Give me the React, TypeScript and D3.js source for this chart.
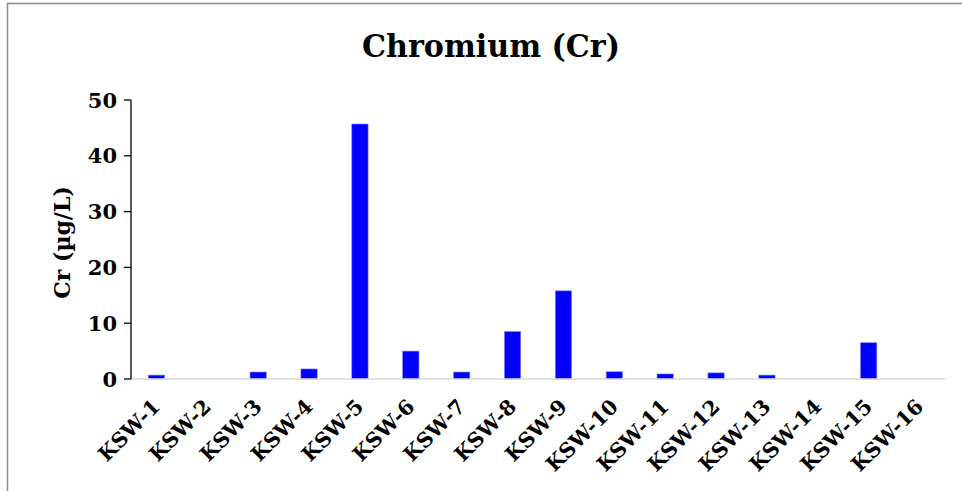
import React from "react";
import * as d3 from "d3";

const sites = [
  "KSW-1", "KSW-2", "KSW-3", "KSW-4", "KSW-5", "KSW-6", "KSW-7", "KSW-8",
  "KSW-9", "KSW-10", "KSW-11", "KSW-12", "KSW-13", "KSW-14", "KSW-15", "KSW-16",
];
const chromium = [0.7, 0, 1.25, 1.8, 45.7, 5.0, 1.25, 8.5, 15.8, 1.3, 0.9, 1.1, 0.7, 0, 6.5, 0];
const yTicks = [0, 10, 20, 30, 40, 50];

const W = 962;
const H = 491;
const FONT = "'DejaVu Serif', serif";

export default function App() {
  const left = 131;
  const right = 945;
  const top = 100;
  const bottom = 379;

  const x = d3.scaleBand<string>().domain(sites).range([left, right]).paddingInner(0.68).paddingOuter(0.34);
  const y = d3.scaleLinear().domain([0, 50]).range([bottom, top]);

  return (
    <svg width={W} height={H} style={{ position: "absolute", left: 0, top: 0, background: "#fff" }}>
      <rect x={7.5} y={3.5} width={W + 10} height={H + 10} fill="#fff" stroke="#8c8c8c" strokeWidth={1.5} />

      <text x={491} y={57} textAnchor="middle" fontFamily={FONT} fontWeight="bold" fontSize={32}
        textLength={258} lengthAdjust="spacingAndGlyphs">
        Chromium (Cr)
      </text>

      {/* bars */}
      {sites.map((s, i) => (
        <rect key={s} x={x(s)!} y={y(chromium[i])} width={x.bandwidth()} height={bottom - y(chromium[i])}
          fill="#0000ff" stroke="#8080ff" strokeWidth={0.6} />
      ))}

      {/* x axis baseline */}
      <line x1={left} x2={right} y1={bottom} y2={bottom} stroke="#d9d9d9" strokeWidth={1.5} />

      {/* y axis */}
      <line x1={left} x2={left} y1={top} y2={bottom} stroke="#000" strokeWidth={1.3} />
      {yTicks.map((t) => (
        <g key={t}>
          <line x1={left - 7} x2={left} y1={y(t)} y2={y(t)} stroke="#000" strokeWidth={1.3} />
          <text x={117} y={y(t) + 7.5} textAnchor="end" fontFamily={FONT} fontWeight="bold" fontSize={21}>
            {t}
          </text>
        </g>
      ))}

      <text transform={`translate(70,${(top + bottom) / 2 + 3}) rotate(-90)`} textAnchor="middle"
        fontFamily={FONT} fontWeight="bold" fontSize={22}>
        Cr (µg/L)
      </text>

      {/* category labels */}
      {sites.map((s) => {
        const cx = x(s)! + x.bandwidth() / 2;
        return (
          <text key={s} transform={`translate(${cx + 5},${bottom + 29}) rotate(-45)`} textAnchor="end"
            fontFamily={FONT} fontWeight="bold" fontSize={20.5}>
            {s}
          </text>
        );
      })}
    </svg>
  );
}
